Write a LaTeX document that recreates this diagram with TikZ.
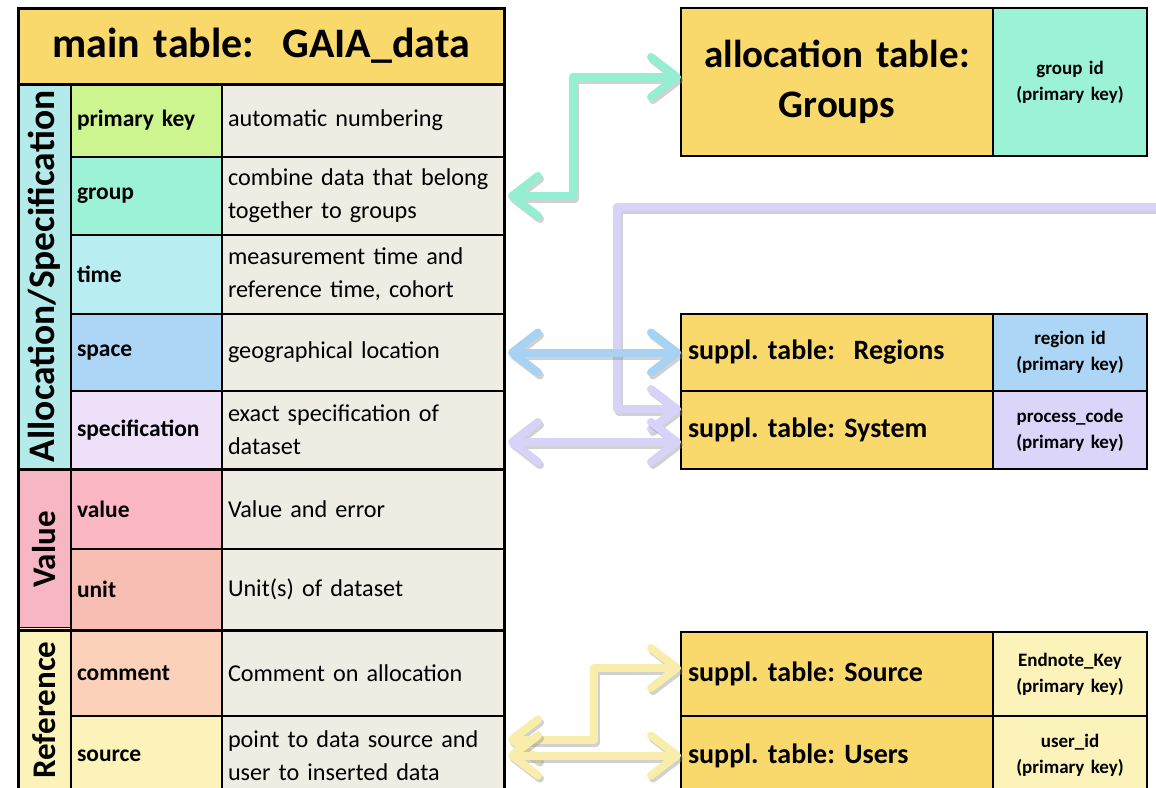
\documentclass[tikz,border=0pt]{standalone}
\usepackage{fontspec}
\setmainfont{Carlito}
\usetikzlibrary{arrows.meta,calc}
\definecolor{gold}{HTML}{F9D96B}
\definecolor{descbg}{HTML}{EFECE4}
\definecolor{catA}{HTML}{B2EBEA}
\definecolor{catV}{HTML}{F7B6C3}
\definecolor{catR}{HTML}{FCF3BA}
\definecolor{fPK}{HTML}{CCF590}
\definecolor{fGroup}{HTML}{9CF2D6}
\definecolor{fTime}{HTML}{B8EDF1}
\definecolor{fSpace}{HTML}{ADD5F5}
\definecolor{fSpec}{HTML}{EFE0FA}
\definecolor{fValue}{HTML}{FBB8C4}
\definecolor{fUnit}{HTML}{F9BEB3}
\definecolor{fComment}{HTML}{FBD2B9}
\definecolor{fSource}{HTML}{FCF3BA}
\definecolor{kProc}{HTML}{DCD5FA}
\definecolor{aMint}{HTML}{94EFD2}
\definecolor{aBlue}{HTML}{A8D2F3}
\definecolor{aLav}{HTML}{D6D2F8}
\definecolor{aYel}{HTML}{F8EDAA}
\newcommand\shconn[3]{%
  \draw[conn, black!45, opacity=0.4, #2, transform canvas={shift={(2pt,-3pt)}}] #3;
  \draw[conn, #1, #2] #3;}
\frenchspacing
\begin{document}
\begin{tikzpicture}[x=1pt,y=-1pt,
  cell/.style={draw=black, line width=1.6pt, outer sep=0pt, inner xsep=6pt, inner ysep=0pt, anchor=north west, align=left},
  fld/.style={cell, text width=139pt, font=\fontsize{23.5}{30}\selectfont\bfseries},
  dsc/.style={cell, fill=descbg, text width=270pt, font=\fontsize{24.2}{33}\selectfont},
  cat/.style={draw=black, line width=1.6pt, outer sep=0pt, inner sep=0pt, rotate=90, minimum height=53pt, font=\fontsize{33}{33}\selectfont\bfseries},
  rlab/.style={cell, fill=gold, inner xsep=7pt, text width=298pt, font=\fontsize{28}{30}\selectfont\bfseries},
  keyc/.style={cell, text width=142pt, align=center, font=\fontsize{19}{26}\selectfont\bfseries},
  frame/.style={draw=black, line width=3pt},
  conn/.style={line width=8pt, line join=round, >={Straight Barb[length=26pt,width=40pt,round]}}
]
\useasboundingbox[fill=white] (0,0) rectangle (1156,787);

% main table header
\node[cell, fill=gold, text width=474pt, align=center, minimum height=76pt, font=\fontsize{42}{42}\selectfont\bfseries] (hdr) at (18,8) {main table:\ \ GAIA\_data};

% field column
\node[fld, fill=fPK, minimum height=73pt] (f1) at (71,84) {primary key};
\node[fld, fill=fGroup, minimum height=78pt] (f2) at (71,157) {group};
\node[fld, fill=fTime, minimum height=79pt] (f3) at (71,235) {time};
\node[fld, fill=fSpace, minimum height=77pt] (f4) at (71,314) {space};
\node[fld, fill=fSpec, minimum height=78pt] (f5) at (71,391) {specification};
\node[fld, fill=fValue, minimum height=80pt] (f6) at (71,469) {value};
\node[fld, fill=fUnit, minimum height=81pt] (f7) at (71,549) {unit};
\node[fld, fill=fComment, minimum height=86pt] (f8) at (71,630) {comment};
\node[fld, fill=fSource, minimum height=79pt] (f9) at (71,716) {source};

% description column
\node[dsc, minimum height=73pt] (d1) at (222,84) {automatic numbering};
\node[dsc, minimum height=78pt] (d2) at (222,157) {combine data that belong\\together to groups};
\node[dsc, minimum height=79pt] (d3) at (222,235) {measurement time and\\reference time, cohort};
\node[dsc, minimum height=77pt] (d4) at (222,314) {geographical location};
\node[dsc, minimum height=78pt] (d5) at (222,391) {exact specification of\\dataset};
\node[dsc, minimum height=80pt] (d6) at (222,469) {Value and error};
\node[dsc, minimum height=81pt] (d7) at (222,549) {Unit(s) of dataset};
\node[dsc, minimum height=86pt] (d8) at (222,630) {Comment on allocation};
\node[dsc, minimum height=79pt] (d9) at (222,716) {point to data source and\\user to inserted data};

% category column
\node[cat, fill=catA, minimum width=385pt, font=\fontsize{37.5}{37.5}\selectfont\bfseries] (c1) at (44.5,276.5) {Allocation/Specification};
\node[cat, fill=catV, minimum width=161pt] (c2) at (44.5,549.5) {Value};
\node[cat, fill=catR, minimum width=165pt] (c3) at (44.5,710) {Reference};

% frames of main table
\draw[frame] (18,8) rectangle (504,795);
\draw[frame] (18,84) -- (504,84);
\draw[frame] (18,469) -- (504,469);
\draw[frame] (18,630) -- (504,630);

% right tables
\node[cell, fill=gold, text width=300pt, align=center, minimum height=148pt, font=\fontsize{39}{50}\selectfont\bfseries] (grp) at (681,8) {allocation table:\\Groups};
\node[keyc, fill=fGroup, minimum height=148pt] (grpk) at (993,8) {group id\\(primary key)};

\node[rlab, minimum height=77pt] (reg) at (681,314) {suppl. table:\ \ Regions};
\node[keyc, fill=fSpace, minimum height=77pt] (regk) at (993,314) {region id\\(primary key)};
\node[rlab, minimum height=78pt] (sys) at (681,391) {suppl. table: System};
\node[keyc, fill=kProc, minimum height=78pt] (sysk) at (993,391) {process\_code\\(primary key)};

\node[rlab, minimum height=84pt] (src) at (681,632) {suppl. table: Source};
\node[keyc, fill=fSource, minimum height=84pt] (srck) at (993,632) {Endnote\_Key\\(primary key)};
\node[rlab, minimum height=79pt] (usr) at (681,716) {suppl. table: Users};
\node[keyc, fill=fSource, minimum height=79pt] (usrk) at (993,716) {user\_id\\(primary key)};

\draw[line width=2.6pt] (681,8) rectangle (1147,156);
\draw[line width=2.6pt] (681,314) rectangle (1147,469);
\draw[line width=2.6pt] (681,632) rectangle (1147,795);

% connectors
\coordinate (gbend) at (573,77);
\coordinate (sysin) at (1165,207);
\coordinate (sbend) at (617,409);
\coordinate (ybend) at (594,668);

\shconn{aMint}{<->}{([xshift=4pt]d2.east) -| (gbend) -- ([yshift=5pt]grp.west)}
\shconn{aLav}{->}{(sysin) -| (sbend) -- ([yshift=21pt]sys.west)}
\shconn{aBlue}{<->}{([xshift=4pt]d4.east) -- (reg.west)}
\shconn{aLav}{<->}{([xshift=4pt,yshift=-12pt]d5.east) -- ([yshift=-12pt]sys.west)}
\shconn{aYel}{<->}{([xshift=4pt,yshift=16pt]d9.east) -| (ybend) -- ([yshift=6pt]src.west)}
\shconn{aYel}{<->}{([xshift=4pt]d9.east) -- (usr.west)}
\end{tikzpicture}
\end{document}
